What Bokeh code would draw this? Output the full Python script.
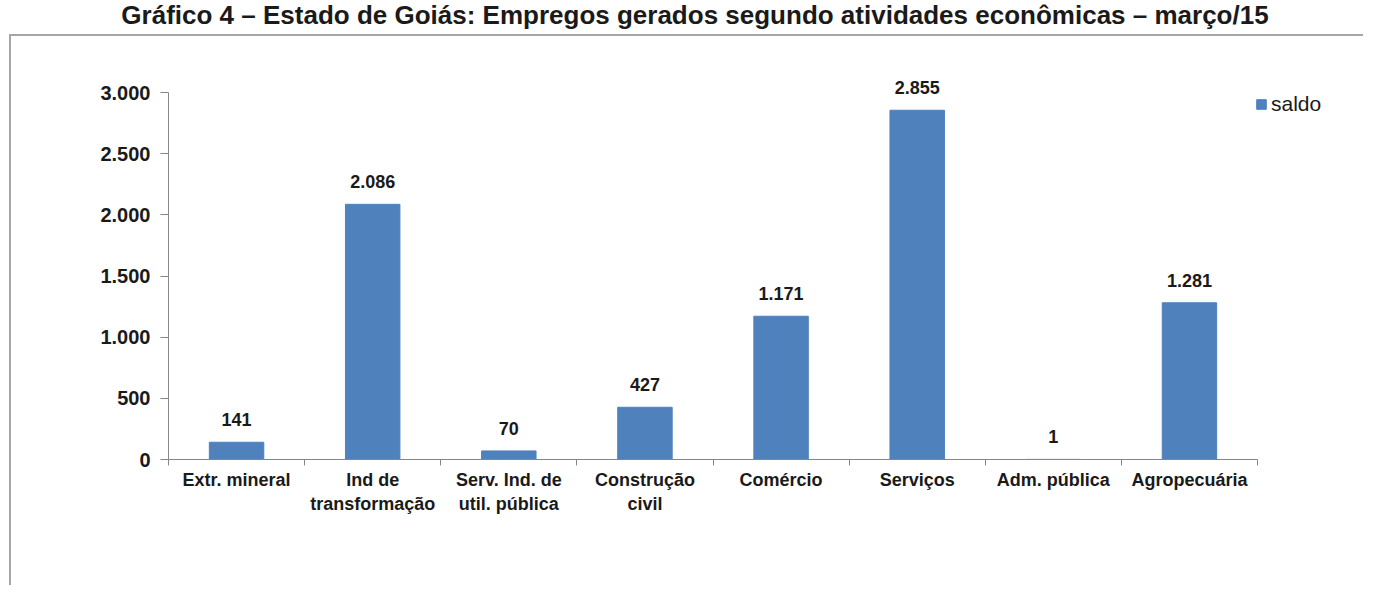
from bokeh.plotting import figure
from bokeh.layouts import column
from bokeh.models import (FixedTicker, Legend, LegendItem, Div,
                          ColumnDataSource, Range1d)
from bokeh.embed import file_html
from bokeh.resources import INLINE
from bokeh.core.properties import value

# ---- data ----
categories = ["Extr. mineral", "Ind de\ntransformação", "Serv. Ind. de\nutil. pública",
              "Construção\ncivil", "Comércio", "Serviços", "Adm. pública", "Agropecuária"]
saldo = [141, 2086, 70, 427, 1171, 2855, 1, 1281]
y_ticks = [0, 500, 1000, 1500, 2000, 2500, 3000]
y_tick_labels = ["0", "500", "1.000", "1.500", "2.000", "2.500", "3.000"]
series_name = "saldo"
title_text = "Gráfico 4 – Estado de Goiás: Empregos gerados segundo atividades econômicas – março/15"


def fmt(v):
    return f"{v:,}".replace(",", ".")


FONT = "Liberation Sans"
TXT = "#1a1a1a"
AXIS = "#868686"
BAR = "#4F81BD"
FRAME = "#a6a6a6"

n = len(categories)
xpos = [i + 0.5 for i in range(n)]
src = ColumnDataSource(dict(x=xpos, top=saldo, label=[fmt(v) for v in saldo]))

TOTAL_W = 1363
TITLE_H = 34
BOX_X = 9                      # left edge of the grey outer box
W = TOTAL_W - BOX_X
H = 585 - TITLE_H

title = Div(text=title_text, width=TOTAL_W, height=TITLE_H, margin=(0, 0, 0, 0),
            styles={"font-family": FONT, "font-weight": "bold", "font-size": "26px",
                    "color": TXT, "text-align": "center", "line-height": "30px",
                    "text-indent": "27px", "white-space": "nowrap"})

p = figure(width=W, height=H, output_backend="svg", toolbar_location=None,
           x_range=Range1d(0, n + 0.683), y_range=Range1d(0, 3261.6),
           min_border_left=168 - BOX_X, min_border_right=TOTAL_W - 1350,
           min_border_top=60 - TITLE_H, min_border_bottom=H - (459 - TITLE_H),
           margin=(0, 0, 0, BOX_X))
p.xgrid.visible = False
p.ygrid.visible = False
p.outline_line_color = None
p.border_fill_color = None
p.background_fill_color = None
# light grey outer box of the original picture (left and top edges only)
p.styles = {"background-color": "white",
            "box-shadow": f"inset 2px 2px 0 0 {FRAME}"}

r = p.vbar(x="x", top="top", width=0.4, source=src, fill_color=BAR, line_color=BAR)

p.text(x="x", y="top", text="label", source=src, text_align="center",
       text_baseline="bottom", y_offset=-16, text_font=value(FONT),
       text_font_style="bold", text_font_size="18px", text_color=TXT)

# x axis
xa = p.xaxis[0]
xa.ticker = FixedTicker(ticks=xpos, minor_ticks=list(range(n + 1)))
xa.major_label_overrides = {x: c for x, c in zip(xpos, categories)}
xa.bounds = (0, n)
xa.major_tick_out = 0
xa.major_tick_in = 0
xa.minor_tick_out = 6
xa.minor_tick_in = 0
xa.axis_line_color = AXIS
xa.minor_tick_line_color = AXIS
xa.major_label_text_font = FONT
xa.major_label_text_font_style = "bold"
xa.major_label_text_font_size = "18px"
xa.major_label_text_color = TXT
xa.major_label_standoff = 4

# y axis
ya = p.yaxis[0]
ya.ticker = FixedTicker(ticks=y_ticks)
ya.major_label_overrides = {t: l for t, l in zip(y_ticks, y_tick_labels)}
ya.bounds = (0, 3000)
ya.major_tick_out = 8
ya.major_tick_in = 0
ya.minor_tick_line_color = None
ya.axis_line_color = AXIS
ya.major_tick_line_color = AXIS
ya.major_label_text_font = FONT
ya.major_label_text_font_style = "bold"
ya.major_label_text_font_size = "20px"
ya.major_label_text_color = TXT
ya.major_label_standoff = 10

legend = Legend(items=[LegendItem(label=series_name, renderers=[r])],
                location=(1087, 343), glyph_width=12, glyph_height=12,
                label_standoff=4, padding=0, margin=0, spacing=0,
                border_line_color=None, background_fill_alpha=0,
                label_text_font=FONT, label_text_font_size="21px",
                label_text_color=TXT)
p.add_layout(legend)

layout = column(title, p, spacing=0)

open("out.html", "w").write(file_html(layout, INLINE))
